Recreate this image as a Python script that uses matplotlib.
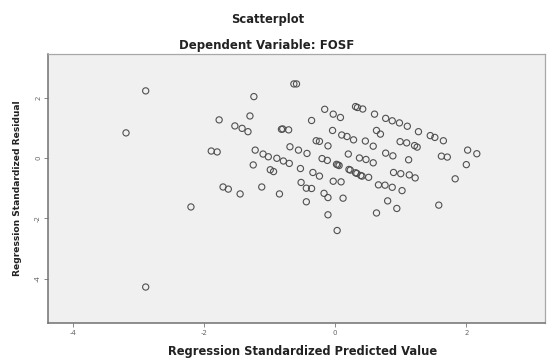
import matplotlib
matplotlib.use("Agg")
import matplotlib.pyplot as plt

# Regression standardized predicted values (x) and residuals (y)
pred = [-3.19, -2.89, -2.89, -2.20, -1.89, -1.80, -1.71, -1.63, -1.77, -1.53,
        -1.42, -1.33, -1.30, -1.24, -1.45, -1.22, -1.10, -1.02, -0.89, -0.79,
        -0.70, -1.25, -0.99, -0.94, -1.12, -0.85, -0.82, -0.80, -0.71, -0.63,
        -0.59, -0.69, -0.56, -0.43, -0.53, -0.52, -0.44, -0.36, -0.44, -0.36,
        -0.34, -0.24, -0.29, -0.24, -0.11, -0.20, -0.12, -0.16, -0.03, 0.08,
        -0.04, -0.17, -0.11, -0.11, 0.03, 0.02, 0.04, 0.06, 0.21, 0.23,
        0.31, 0.33, 0.39, 0.41, 0.51, -0.03, 0.09, 0.12, 0.10, 0.18,
        0.28, 0.46, 0.20, 0.37, 0.47, 0.58, 0.31, 0.34, 0.42, 0.60,
        0.63, 0.69, 0.58, 0.77, 0.87, 0.98, 1.10, 1.27, 1.45, 1.52,
        1.65, 0.99, 1.09, 1.21, 1.25, 2.02, 2.16, 0.77, 0.88, 1.12,
        1.62, 1.71, 2.00, 0.89, 1.00, 1.13, 1.22, 1.83, 0.66, 0.76,
        0.87, 1.02, 0.80, 0.94, 0.63, 1.58]
resid = [0.83, 2.22, -4.27, -1.62, 0.23, 0.20, -0.96, -1.03, 1.26, 1.06,
         0.98, 0.87, 1.39, 2.03, -1.19, 0.26, 0.13, 0.04, -0.01, -0.10,
         -0.18, -0.23, -0.39, -0.45, -0.96, -1.19, 0.95, 0.96, 0.93, 2.45,
         2.45, 0.37, 0.26, 0.15, -0.35, -0.81, -1.00, -1.01, -1.45, 1.24,
         -0.48, -0.60, 0.57, 0.55, 0.40, -0.02, -0.08, 1.61, 1.45, 1.34,
         0.91, -1.17, -1.31, -1.88, -2.40, -0.21, -0.23, -0.25, -0.38, -0.40,
         -0.49, -0.51, -0.58, -0.60, -0.64, -0.77, -0.79, -1.33, 0.76, 0.71,
         0.60, 0.56, 0.13, 0.00, -0.05, -0.16, 1.70, 1.67, 1.62, 1.45,
         0.91, 0.79, 0.39, 1.31, 1.23, 1.16, 1.05, 0.87, 0.74, 0.68,
         0.57, 0.54, 0.50, 0.41, 0.36, 0.26, 0.14, 0.16, 0.07, -0.06,
         0.06, 0.03, -0.22, -0.48, -0.52, -0.56, -0.66, -0.69, -0.89, -0.90,
         -0.97, -1.08, -1.42, -1.67, -1.82, -1.56]

xticks = [-4, -2, 0, 2]
yticks = [2, 0, -2, -4]

fig = plt.figure(figsize=(5.47, 3.59), dpi=100)
fig.patch.set_facecolor("white")
ax = fig.add_axes([48/547, 36/359, (545-48)/547, (323-54)/359])
ax.set_facecolor("#f0f0f0")

ax.scatter(pred, resid, s=20, facecolors="none", edgecolors="#505050",
           linewidths=0.8, zorder=3)

ax.set_xlim(-4.38, 3.2)
ax.set_ylim(-5.46, 3.44)
ax.set_xticks(xticks)
ax.set_xticklabels([str(t) for t in xticks])
ax.set_yticks(yticks)
ax.set_yticklabels([str(t) for t in yticks], rotation=90, va="center")
ax.tick_params(axis="both", length=3, width=0.7, color="#888888",
               labelsize=5, labelcolor="#666666", pad=2)

for side in ["top", "right"]:
    ax.spines[side].set_color("#a8a8a8")
    ax.spines[side].set_linewidth(0.9)
for side in ["left", "bottom"]:
    ax.spines[side].set_color("#707070")
    ax.spines[side].set_linewidth(1.1)

font = ["DejaVu Sans"]
fig.text(268/547, 1 - 20/359, "Scatterplot", ha="center", va="center",
         fontsize=8.3, fontweight="bold", family=font, color="#222222")
fig.text(267/547, 1 - 45/359, "Dependent Variable: FOSF", ha="center", va="center",
         fontsize=8.5, fontweight="bold", family=font, color="#222222")
fig.text(303/547, 1 - 351/359, "Regression Standardized Predicted Value",
         ha="center", va="center", fontsize=8.3, fontweight="bold", family=font,
         color="#222222")
fig.text(18/547, 1 - 188/359, "Regression Standardized Residual", ha="center",
         va="center", rotation=90, fontsize=6.6, fontweight="bold", family=font,
         color="#222222")

fig.savefig("out.png", dpi=100)
